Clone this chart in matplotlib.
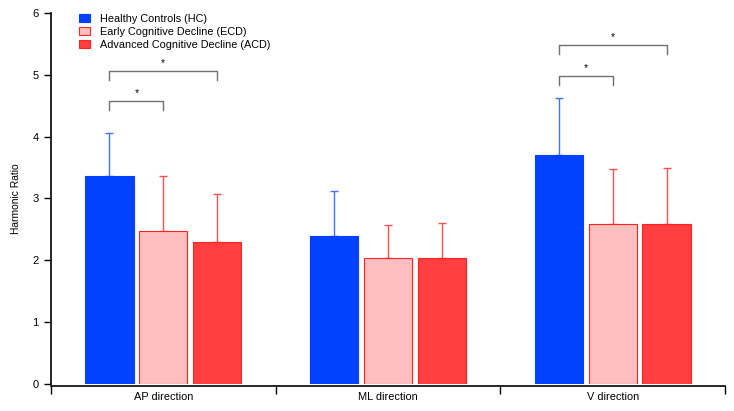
import matplotlib
matplotlib.use("Agg")
import matplotlib.pyplot as plt
import numpy as np

plt.rcParams['font.family'] = ['Liberation Sans', 'DejaVu Sans']

categories = ["AP direction", "ML direction", "V direction"]
groups = ["Healthy Controls (HC)", "Early Cognitive Decline (ECD)", "Advanced Cognitive Decline (ACD)"]
hc_mean = [3.36, 2.40, 3.70]
hc_sd = [0.70, 0.72, 0.93]
ecd_mean = [2.48, 2.03, 2.59]
ecd_sd = [0.89, 0.54, 0.89]
acd_mean = [2.30, 2.04, 2.59]
acd_sd = [0.78, 0.57, 0.90]
yticks = [0, 1, 2, 3, 4, 5, 6]

fills = ["#0040FF", "#FFBFBF", "#FF3F3F"]
edges = ["#0040FF", "#FF2020", "#FF2020"]
errc = ["#4070FF", "#FF5050", "#FF5050"]

fig = plt.figure(figsize=(7.34, 4.11), dpi=100)
ax = fig.add_axes([51/734, 1-384/411, (725-51)/734, (384-13)/411])

x = np.arange(len(categories))
width = 0.215
offsets = [-0.24, 0.0, 0.24]
means = [hc_mean, ecd_mean, acd_mean]
sds = [hc_sd, ecd_sd, acd_sd]
for i in range(3):
    ax.bar(x + offsets[i], means[i], width, color=fills[i], edgecolor=edges[i],
           linewidth=0.8, label=groups[i], zorder=2)
    ax.errorbar(x + offsets[i], means[i], yerr=[np.zeros(3), sds[i]], fmt='none',
                ecolor=errc[i], elinewidth=1.0, capsize=3.2, capthick=1.0, zorder=1)

# significance brackets
def bracket(x1, x2, y, drop, ax):
    ax.plot([x1, x1, x2, x2], [y - drop, y, y, y - drop], color="#707070", lw=1.0)
    ax.text((x1 + x2) / 2, y + 0.05, "*", ha="center", va="bottom", fontsize=7.5)

bracket(x[0] + offsets[0], x[0] + offsets[1], 4.58, 0.15, ax)
bracket(x[0] + offsets[0], x[0] + offsets[2], 5.06, 0.15, ax)
bracket(x[2] + offsets[0], x[2] + offsets[1], 4.98, 0.14, ax)
bracket(x[2] + offsets[0], x[2] + offsets[2], 5.48, 0.14, ax)

ax.set_xlim(-0.5, 2.5)
ax.set_ylim(0, 6)
ax.set_yticks(yticks)
ax.set_yticklabels([str(t) for t in yticks])
ax.set_ylabel("Harmonic Ratio", fontsize=7.4, labelpad=8)

ax.set_xticks([-0.5, 0.5, 1.5, 2.5])
ax.set_xticklabels([])
ax.set_xticks(x, minor=True)
ax.set_xticklabels(categories, minor=True)
ax.tick_params(axis='x', which='minor', length=0, pad=4, labelsize=7.9)
ax.tick_params(axis='x', which='major', length=6, direction='out', width=1)
ax.tick_params(axis='y', length=5, width=1, direction='out', pad=4, labelsize=8)

for s in ["top", "right"]:
    ax.spines[s].set_visible(False)
ax.spines["bottom"].set_position(("outward", 1.5))
ax.spines["left"].set_linewidth(1.2)
ax.spines["bottom"].set_linewidth(1.2)

ax.legend(loc="upper left", bbox_to_anchor=(0.035, 1.009), frameon=False, fontsize=7.8,
          handlelength=1.0, handleheight=0.7, labelspacing=0.28, handletextpad=0.9,
          borderaxespad=0)

fig.savefig("out.png", dpi=100)
